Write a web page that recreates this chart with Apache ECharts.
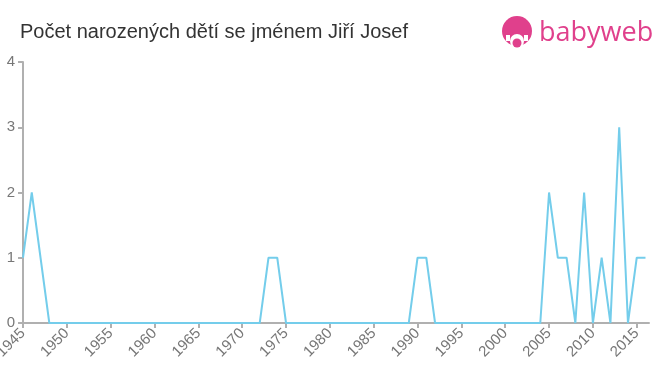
<!DOCTYPE html>
<html>
<head>
<meta charset="utf-8">
<script src="https://cdn.jsdelivr.net/npm/echarts@6/dist/echarts.min.js"></script>
<style>html,body{margin:0;padding:0;background:#fff}#c{width:660px;height:375px}</style>
</head>
<body>
<div id="c"></div>
<script>
var years = [];
for (var y = 1945; y <= 2016; y++) years.push(y);
var counts = [
  1,2,1,0,0,0,0,0,0,0,   // 1945-1954
  0,0,0,0,0,0,0,0,0,0,   // 1955-1964
  0,0,0,0,0,0,0,0,1,1,   // 1965-1974
  0,0,0,0,0,0,0,0,0,0,   // 1975-1984
  0,0,0,0,0,1,1,0,0,0,   // 1985-1994
  0,0,0,0,0,0,0,0,0,0,   // 1995-2004
  2,1,1,0,2,0,1,0,3,0,   // 2005-2014
  1,1                    // 2015-2016
];
var xTicks = [1945,1950,1955,1960,1965,1970,1975,1980,1985,1990,1995,2000,2005,2010,2015];
var yTicks = [0,1,2,3,4];
var title = 'Počet narozených dětí se jménem Jiří Josef';

var data = years.map(function(yr, i){ return [yr, counts[i]]; });
var chart = echarts.init(document.getElementById('c'), null, {renderer:'canvas'});
chart.setOption({
  animation: false,
  title: {
    text: title, left: 15, top: 17,
    textStyle: {fontFamily: 'Liberation Sans, Arial, sans-serif', fontSize: 20, fontWeight: 'normal', color: '#333'}
  },
  graphic: [
    {type:'circle', shape:{cx:517, cy:31, r:15}, style:{fill:'#e0408c'}},
    {type:'circle', shape:{cx:517, cy:41, r:7}, style:{fill:'#fff'}},
    {type:'rect', shape:{x:506, y:35, width:4, height:6}, style:{fill:'#fff'}},
    {type:'rect', shape:{x:524, y:35, width:4, height:6}, style:{fill:'#fff'}},
    {type:'circle', shape:{cx:517, cy:43, r:4.5}, style:{fill:'#e0408c'}},
    {type:'text', left: 539, top: 20, style:{text:'babyweb', fill:'#e0408c', font:'500 27px "Open Sans", sans-serif'}}
  ],
  grid: {left: 23, right: 11, top: 62, bottom: 52, outerBoundsMode: 'none', containLabel: false},
  xAxis: {
    type: 'value', min: 1945, max: 2016.4,
    axisLine: {lineStyle: {color: '#b0b0b0', width: 2}},
    axisTick: {customValues: xTicks, length: 5, lineStyle: {color: '#b0b0b0', width: 2}},
    axisLabel: {customValues: xTicks, rotate: 45, color: '#777', fontSize: 15,
      fontFamily: 'Liberation Sans, Arial, sans-serif', margin: 8,
      formatter: function(v){ return String(v); }},
    splitLine: {show: false}
  },
  yAxis: {
    type: 'value', min: 0, max: 4, interval: 1,
    axisLine: {show: true, lineStyle: {color: '#b0b0b0', width: 2}},
    axisTick: {show: true, length: 5, lineStyle: {color: '#b0b0b0', width: 2}},
    axisLabel: {color: '#777', fontSize: 15, fontFamily: 'Liberation Sans, Arial, sans-serif', margin: 8},
    splitLine: {show: false}
  },
  series: [{
    type: 'line', data: data, showSymbol: false, symbol: 'none',
    lineStyle: {color: '#74cdeb', width: 2}, z: 1
  }]
});
</script>
</body>
</html>
